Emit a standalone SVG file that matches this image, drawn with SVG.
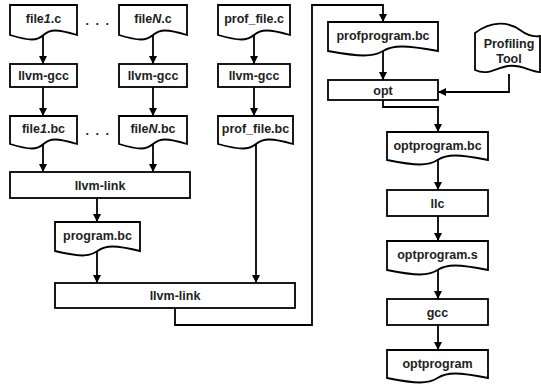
<svg xmlns="http://www.w3.org/2000/svg" width="541" height="386" viewBox="0 0 541 386">
<defs>
<marker id="ah" viewBox="0 0 10 10" refX="10" refY="5" markerWidth="8" markerHeight="8" markerUnits="userSpaceOnUse" orient="auto">
<path d="M0,0 L10,5 L0,10 z" fill="#000"/>
</marker>
<style>
.s{fill:#fff;stroke:#000;stroke-width:1.8}
.t{font-family:"Liberation Sans",Arial,sans-serif;font-weight:bold;font-size:12.5px;fill:#222;text-anchor:middle}
.c{fill:none;stroke:#000;stroke-width:1.8}
.a{marker-end:url(#ah)}
</style>
</defs>
<rect width="541" height="386" fill="#fff"/>
<g id="connectors">
<path class="c a" d="M43,35 V64"/>
<path class="c a" d="M153,35 V64"/>
<path class="c a" d="M254,35 V64"/>
<path class="c a" d="M43,87 V116"/>
<path class="c a" d="M153,87 V116"/>
<path class="c a" d="M254,87 V116"/>
<path class="c a" d="M43,144 V172"/>
<path class="c a" d="M153,144 V172"/>
<path class="c a" d="M97,198 V222"/>
<path class="c a" d="M97,251 V283"/>
<path class="c a" d="M256,144 V283"/>
<path class="c a" d="M175,308 V325 H312 V5 H383 V22"/>
<path class="c a" d="M383,51 V80"/>
<path class="c a" d="M509,74 V92 H438"/>
<path class="c a" d="M383,100 V107 H438 V132"/>
<path class="c a" d="M438,160 V190"/>
<path class="c a" d="M438,216 V241"/>
<path class="c a" d="M438,270 V299"/>
<path class="c a" d="M438,325 V350"/>
</g>
<g id="file1c"><path class="s" d="M10,5 H77 V35 C57,29 50,29 43.5,35 C37,41 30,41 10,35 Z"/><text class="t" x="43.5" y="23">file<tspan font-style="italic">1</tspan>.c</text></g>
<g id="dots1"><text class="t" x="98" y="25" letter-spacing="1.5">. . .</text></g>
<g id="fileNc"><path class="s" d="M119,5 H187 V35 C167,29 160,29 153,35 C146,41 139,41 119,35 Z"/><text class="t" x="153" y="23">file<tspan font-style="italic">N</tspan>.c</text></g>
<g id="proffilec"><path class="s" d="M218,5 H290 V35 C269,29 261,29 254,35 C247,41 239,41 218,35 Z"/><text class="t" x="254" y="23">prof_file.c</text></g>
<g id="gcc1"><rect class="s" x="10" y="64" width="67" height="23"/><text class="t" x="43.5" y="80">llvm-gcc</text></g>
<g id="gccN"><rect class="s" x="119" y="64" width="68" height="23"/><text class="t" x="153" y="80">llvm-gcc</text></g>
<g id="gccP"><rect class="s" x="218" y="64" width="72" height="23"/><text class="t" x="254" y="80">llvm-gcc</text></g>
<g id="file1bc"><path class="s" d="M10,116 H77 V144 C57,138 50,138 43.5,144 C37,150 30,150 10,144 Z"/><text class="t" x="43.5" y="133">file<tspan font-style="italic">1</tspan>.bc</text></g>
<g id="dots2"><text class="t" x="98" y="135" letter-spacing="1.5">. . .</text></g>
<g id="fileNbc"><path class="s" d="M119,116 H187 V144 C167,138 160,138 153,144 C146,150 139,150 119,144 Z"/><text class="t" x="153" y="133">file<tspan font-style="italic">N</tspan>.bc</text></g>
<g id="proffilebc"><path class="s" d="M218,116 H293 V144 C272,138 263,138 256,144 C249,150 240,150 218,144 Z"/><text class="t" x="255.5" y="133">prof_file.bc</text></g>
<g id="link1"><rect class="s" x="10" y="172" width="180" height="26"/><text class="t" x="100" y="189.5">llvm-link</text></g>
<g id="programbc"><path class="s" d="M55,222 H140 V251 C115,245 106,245 97.5,251 C89,257 80,257 55,251 Z"/><text class="t" x="97.5" y="240">program.bc</text></g>
<g id="link2"><rect class="s" x="55" y="283" width="240" height="25"/><text class="t" x="175" y="300">llvm-link</text></g>
<g id="profprogrambc"><path class="s" d="M328,22 H438 V51 C405,45 393,45 383,51 C373,57 361,57 328,51 Z"/><text class="t" x="383" y="40">profprogram.bc</text></g>
<g id="proftool"><path class="s" d="M475,33 C492,20 509,22 520,30 C528,36 534,37 540,36 V72 C530,72 522,64 508,66 C495,68 488,76 475,70 Z"/><text class="t" x="509" y="48">Profiling</text><text class="t" x="509" y="63">Tool</text></g>
<g id="opt"><rect class="s" x="328" y="80" width="110" height="20"/><text class="t" x="383" y="94.5">opt</text></g>
<g id="optprogrambc"><path class="s" d="M387,132 H488 V160 C458,154 447,154 437.5,160 C428,166 417,166 387,160 Z"/><text class="t" x="437.5" y="150">optprogram.bc</text></g>
<g id="llc"><rect class="s" x="387" y="190" width="101" height="26"/><text class="t" x="437.5" y="207.5">llc</text></g>
<g id="optprograms"><path class="s" d="M387,241 H488 V270 C458,264 447,264 437.5,270 C428,276 417,276 387,270 Z"/><text class="t" x="437.5" y="259">optprogram.s</text></g>
<g id="gcc"><rect class="s" x="387" y="299" width="101" height="26"/><text class="t" x="437.5" y="316.5">gcc</text></g>
<g id="optprogram"><path class="s" d="M387,350 H488 V378 C458,372 447,372 437.5,378 C428,384 417,384 387,378 Z"/><text class="t" x="437.5" y="368">optprogram</text></g>
</svg>
